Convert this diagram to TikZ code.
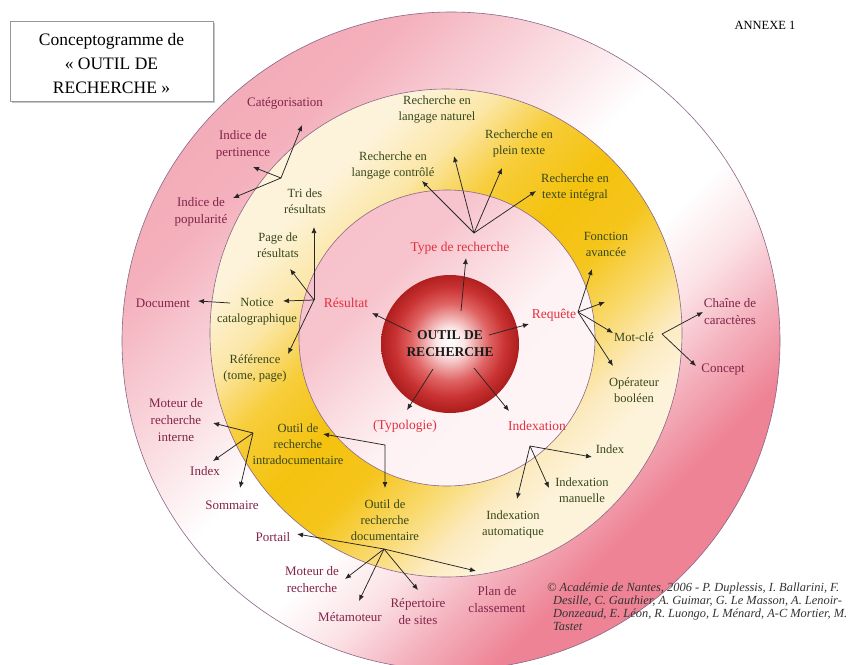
\documentclass[tikz,border=0pt]{standalone}
\usepackage{fontspec}
\setmainfont{Liberation Serif}
\usetikzlibrary{arrows.meta,calc,shadows}

\definecolor{outerlab}{HTML}{82244A}
\definecolor{ringlab}{HTML}{36461A}
\definecolor{innerlab}{HTML}{E2303F}
\definecolor{rimline}{HTML}{8A6688}

% outer ring: pink towards NW and SE, wide white band across the middle
\definecolor{opA}{HTML}{F09AA8}
\definecolor{opB}{HTML}{F4B0BC}
\definecolor{opC}{HTML}{FADDE2}
\definecolor{opD}{HTML}{FBE2E6}
\definecolor{opE}{HTML}{F4B0BC}
\definecolor{opF}{HTML}{EE8395}
\pgfdeclarehorizontalshading{outerband}{100bp}{color(0bp)=(opA); color(30bp)=(opB); color(40bp)=(opC); color(47bp)=(white); color(55bp)=(white); color(60bp)=(opD); color(65bp)=(opE); color(70bp)=(opF); color(100bp)=(opF)}

% yellow ring: gold band between pale ends
\definecolor{ypA}{HTML}{FDF3DA}
\definecolor{ypB}{HTML}{FBE7A8}
\definecolor{ypC}{HTML}{F7CD3A}
\definecolor{ypD}{HTML}{F4C20E}
\definecolor{ypE}{HTML}{F5C51C}
\definecolor{ypF}{HTML}{F9DA70}
\definecolor{ypG}{HTML}{FCEBC0}
\pgfdeclarehorizontalshading{yellowband}{100bp}{color(0bp)=(ypA); color(30bp)=(ypA); color(36bp)=(ypB); color(42bp)=(ypC); color(49bp)=(ypD); color(55bp)=(ypE); color(61bp)=(ypF); color(66bp)=(ypG); color(70bp)=(ypA); color(100bp)=(ypA)}

% inner disc
\definecolor{ipA}{HTML}{F6BCC6}
\definecolor{ipB}{HTML}{F7C4CD}
\definecolor{ipC}{HTML}{FADCE1}
\definecolor{ipD}{HTML}{FEF2F4}
\definecolor{ipE}{HTML}{FFF8F8}
\pgfdeclarehorizontalshading{innerband}{100bp}{color(0bp)=(ipA); color(36bp)=(ipB); color(46bp)=(ipC); color(56bp)=(ipD); color(100bp)=(ipE)}

% central red ball
\definecolor{rbA}{HTML}{FCE6E6}
\definecolor{rbB}{HTML}{E06464}
\definecolor{rbC}{HTML}{C93232}
\definecolor{rbD}{HTML}{AE1E1E}
\pgfdeclareradialshading{redball}{\pgfpoint{0bp}{1bp}}{color(0bp)=(white); color(5bp)=(rbA); color(14bp)=(rbB); color(20bp)=(rbC); color(25bp)=(rbD); color(50bp)=(rbD)}

\begin{document}
\begin{tikzpicture}[x=1pt,y=-1pt,
  outerlbl/.style={text=outerlab,font=\fontsize{13}{17}\selectfont,align=center,inner sep=1pt},
  ringlbl/.style={text=ringlab,font=\fontsize{12.5}{16}\selectfont,align=center,inner sep=1pt},
  innerlbl/.style={text=innerlab,font=\fontsize{13.5}{16}\selectfont,inner sep=1pt},
  link/.style={draw=black!85,line width=0.75pt,-{Latex[length=6pt,width=5pt]}},
  bilink/.style={draw=black!85,line width=0.75pt,{Latex[length=6pt,width=5pt]}-{Latex[length=6pt,width=5pt]}},
  rim/.style={draw=rimline,line width=0.6pt}]
\useasboundingbox (0,0) rectangle (853,664);
\fill[white] (0,0) rectangle (853,664);

% concentric rings
\begin{scope}
\clip (0,0) rectangle (853,664);
\shade[shading=outerband,shading angle=-45,rim] (451,341) circle[radius=329pt];
\shade[shading=yellowband,shading angle=-45,rim] (446,333) ellipse[x radius=236pt,y radius=244pt];
\shade[shading=innerband,shading angle=-45,rim] (447,338) circle[radius=148pt];
\end{scope}

% centre
\node[circle,minimum size=138pt,inner sep=0pt,shading=redball,
      font=\bfseries\fontsize{13.5}{17}\selectfont,align=center,text=black!90] (core) at (450,344) {OUTIL DE\\RECHERCHE};

% title box and header
\node[draw=black!40,fill=white,minimum width=203pt,minimum height=80pt,
      drop shadow={shadow xshift=2pt,shadow yshift=-2pt,fill=black!45}] (title) at (111.5,61) {};
\node[font=\fontsize{17.5}{24}\selectfont,align=center] (titletext) at (111.5,64) {Conceptogramme de\\« OUTIL DE\\RECHERCHE »};
\node[font=\fontsize{12.5}{15}\selectfont] (annexe) at (765,25) {ANNEXE 1};

% inner ring
\node[innerlbl] (type) at (460,248) {Type de recherche};
\node[innerlbl] (resu) at (346,303) {Résultat};
\node[innerlbl] (requ) at (554,315) {Requête};
\node[innerlbl] (typo) at (405,426) {(Typologie)};
\node[innerlbl] (indx) at (537,426) {Indexation};

% yellow ring
\node[ringlbl] (rln) at (437,110) {Recherche en\\langage naturel};
\node[ringlbl] (rpt) at (519,143) {Recherche en\\plein texte};
\node[ringlbl] (rlc) at (393,166) {Recherche en\\langage contrôlé};
\node[ringlbl] (rti) at (575,188) {Recherche en\\texte intégral};
\node[ringlbl] (fonc) at (606,244) {Fonction\\avancée};
\node[ringlbl] (motcle) at (634,337) {Mot-clé};
\node[ringlbl] (oper) at (634,390) {Opérateur\\booléen};
\node[ringlbl] (tri) at (305,201) {Tri des\\résultats};
\node[ringlbl] (page) at (278,245) {Page de\\résultats};
\node[ringlbl] (notice) at (257,312) {Notice\\catalographique};
\node[ringlbl] (refe) at (255,368) {Référence\\(tome, page)};
\node[ringlbl] (intra) at (298,444) {Outil de\\recherche\\intradocumentaire};
\node[ringlbl] (docr) at (385,520) {Outil de\\recherche\\documentaire};
\node[ringlbl] (idxr) at (610,449) {Index};
\node[ringlbl] (idxm) at (582,490) {Indexation\\manuelle};
\node[ringlbl] (idxa) at (513,524) {Indexation\\automatique};

% outer ring
\node[outerlbl] (catg) at (285,103) {Catégorisation};
\node[outerlbl] (pert) at (243,145) {Indice de\\pertinence};
\node[outerlbl] (popu) at (201,212) {Indice de\\popularité};
\node[outerlbl] (docu) at (163,303) {Document};
\node[outerlbl] (mri) at (176,420) {Moteur de\\recherche\\interne};
\node[outerlbl] (idxl) at (205,471) {Index};
\node[outerlbl] (somm) at (232,505) {Sommaire};
\node[outerlbl] (port) at (273,537) {Portail};
\node[outerlbl] (mdr) at (312,580) {Moteur de\\recherche};
\node[outerlbl] (meta) at (350,617) {Métamoteur};
\node[outerlbl] (rep) at (418,612) {Répertoire\\de sites};
\node[outerlbl] (plan) at (497,600) {Plan de\\classement};
\node[outerlbl] (chaine) at (730,312) {Chaîne de\\caractères};
\node[outerlbl] (concept) at (723,370) {Concept};

% credits
\node[anchor=north west,align=left,inner sep=0pt,text=black!80,
      font=\itshape\fontsize{12.4}{12.8}\selectfont] (credit) at (547,583)
  {© Académie de Nantes, 2006 - P. Duplessis, I. Ballarini, F.\\
   \hspace*{6pt}Desille, C. Gauthier, A. Guimar, G. Le Masson, A. Lenoir-\\
   \hspace*{6pt}Donzeaud, E. Léon, R. Luongo, L Ménard, A-C Mortier, M.\\
   \hspace*{6pt}Tastet};

% branching points
\coordinate (hType) at ($(type)+(14,-15)$);
\coordinate (hTri) at ($(tri)+(-24,-23)$);
\coordinate (hRes) at ($(resu)+(-32,-3)$);
\coordinate (hReq) at ($(requ)+(24,-3)$);
\coordinate (reqspare) at (605,302);
\coordinate (hMot) at ($(motcle)+(28,-3)$);
\coordinate (hIntra) at ($(intra)+(-45,-11)$);
\coordinate (hDoc) at ($(docr)+(-1,29)$);
\coordinate (hIdx) at ($(indx)+(-7,20)$);

% centre to the five facets
\draw[link] ($(core)+(11,-33)$) -- ($(type)+(6,10)$);
\draw[link] ($(core)+(-39,-12)$) -- ($(resu)+(26,10)$);
\draw[link] ($(core)+(39,-9)$) -- ($(requ)+(-25,9)$);
\draw[link] ($(core)+(-17,25)$) -- ($(typo)+(2,-16)$);
\draw[link] ($(core)+(24,24)$) -- ($(indx)+(-28,-15)$);

% type de recherche
\draw[link] (hType) -- ($(rlc)+(29,15)$);
\draw[link] (hType) -- ($(rln)+(17,46)$);
\draw[link] (hType) -- ($(rpt)+(-17,25)$);
\draw[link] (hType) -- ($(rti)+(-39,3)$);

% tri des résultats
\draw[link] (hTri) -- ($(catg)+(17,22)$);
\draw[link] (hTri) -- ($(pert)+(10,22)$);
\draw[link] (hTri) -- ($(popu)+(32,-14)$);

% résultat
\draw[link] (hRes) -- ($(tri)+(9,26)$);
\draw[link] (hRes) -- ($(page)+(12,24)$);
\draw[link] (hRes) -- ($(notice)+(26,-11)$);
\draw[link] (hRes) -- ($(refe)+(33,-14)$);
\draw[link] ($(notice)+(-27,-9)$) -- ($(docu)+(35,-2)$);

% requête
\draw[link] (hReq) -- ($(fonc)+(-14,25)$);
\draw[link] (hReq) -- (reqspare);
\draw[link] (hReq) -- ($(motcle)+(-21,-4)$);
\draw[link] (hReq) -- ($(oper)+(-21,-24)$);
\draw[link] (hMot) -- ($(chaine)+(-27,0)$);
\draw[link] (hMot) -- ($(concept)+(-27,-4)$);

% typologie
\draw[link] (hIntra) -- ($(mri)+(37,3)$);
\draw[link] (hIntra) -- ($(idxl)+(8,-10)$);
\draw[link] (hIntra) -- ($(somm)+(8,-17)$);
\draw[bilink] ($(intra)+(25,-10)$) -- ($(docr)+(0,-75)$) -- ($(docr)+(0,-32)$);
\draw[link] (hDoc) -- ($(port)+(24,-3)$);
\draw[link] (hDoc) -- ($(mdr)+(33,-1)$);
\draw[link] (hDoc) -- ($(meta)+(9,-16)$);
\draw[link] (hDoc) -- ($(rep)+(0,-22)$);
\draw[link] (hDoc) -- ($(plan)+(-21,-29)$);

% indexation
\draw[link] (hIdx) -- ($(idxr)+(-18,8)$);
\draw[link] (hIdx) -- ($(idxm)+(-33,-2)$);
\draw[link] (hIdx) -- ($(idxa)+(4,-25)$);
\end{tikzpicture}
\end{document}
